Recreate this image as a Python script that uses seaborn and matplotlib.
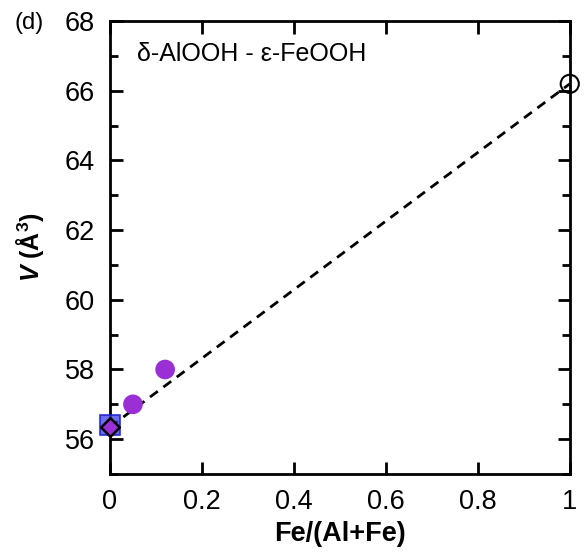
import numpy as np
import pandas as pd
import matplotlib.pyplot as plt
import seaborn as sns

# data
fe_frac_circles = [0.05, 0.12]
vol_circles = [57.0, 58.0]
fe_frac_square = [0.0]
vol_square = [56.4]
fe_frac_diamond = [0.0]
vol_diamond = [56.35]
fe_frac_open = [1.0]
vol_open = [66.2]
fe_frac_fit = [0.0, 1.0]
vol_fit = [56.35, 66.2]

sns.set_style('ticks')
plt.rcParams['font.family'] = ['Liberation Sans', 'DejaVu Sans']
plt.rcParams['mathtext.fontset'] = 'custom'
plt.rcParams['mathtext.rm'] = 'Liberation Sans'
plt.rcParams['mathtext.it'] = 'Liberation Sans:italic'
plt.rcParams['mathtext.bf'] = 'Liberation Sans:bold'
plt.rcParams['mathtext.bfit'] = 'Liberation Sans:bold:italic'
for k in ['text.color', 'axes.labelcolor', 'xtick.color', 'ytick.color',
          'axes.edgecolor']:
    plt.rcParams[k] = 'black'

fig = plt.figure(figsize=(5.88, 5.56), dpi=100)
ax = fig.add_axes([0.187, 0.1475, 0.782, 0.8145])

# linear trend between end members
fit = pd.DataFrame({'x': fe_frac_fit, 'y': vol_fit})
sns.lineplot(data=fit, x='x', y='y', ax=ax, color='black', lw=2,
             linestyle=(0, (3.5, 2.5)), zorder=1)

sns.scatterplot(x=fe_frac_circles, y=vol_circles, ax=ax, s=200,
                color='#9a2fd6', edgecolor='none', zorder=3)
sns.scatterplot(x=fe_frac_square, y=vol_square, ax=ax, s=190, marker='s',
                color='#3d3de8', alpha=0.75, edgecolor='#1a1acc',
                linewidth=1.5, zorder=3)
sns.scatterplot(x=fe_frac_diamond, y=vol_diamond, ax=ax, s=90, marker='D',
                color='#9a2fd6', edgecolor='black', linewidth=1.8, zorder=4)
sns.scatterplot(x=fe_frac_open, y=vol_open, ax=ax, s=170,
                facecolor='none', edgecolor='black', linewidth=1.5, zorder=4)
for c in ax.collections:
    c.set_clip_on(False)

ax.set_xlim(0, 1)
ax.set_ylim(55, 68)
ax.set_xticks([0, 0.2, 0.4, 0.6, 0.8, 1.0])
ax.set_xticklabels(['0', '0.2', '0.4', '0.6', '0.8', '1'])
ax.set_yticks(np.arange(56, 69, 2))
ax.set_yticks(np.arange(55, 68, 2), minor=True)

for s in ax.spines.values():
    s.set_visible(True)
    s.set_linewidth(2)
ax.tick_params(which='both', direction='in', top=True, right=True,
               labelsize=19.5, width=2)
ax.tick_params(axis='x', pad=11)
ax.tick_params(axis='y', pad=11)
ax.tick_params(which='major', length=9)
ax.tick_params(which='minor', length=6)

ax.set_xlabel('Fe/(Al+Fe)', fontsize=19.5, fontweight='bold', labelpad=4)
ax.set_ylabel(r'$\mathbfit{V}$ $\mathbf{(\AA^3)}$', fontsize=18,
              labelpad=13)
ax.text(0.058, 0.955, 'δ-AlOOH - ε-FeOOH', transform=ax.transAxes,
        fontsize=18, va='top', ha='left')
fig.text(0.025, 0.978, '(d)', fontsize=17, va='top', ha='left')

fig.savefig('out.png', dpi=100)
